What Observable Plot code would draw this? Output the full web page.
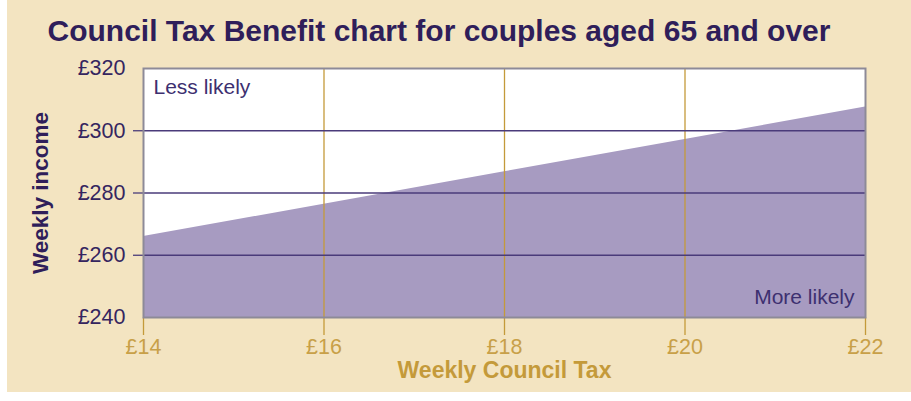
<!DOCTYPE html>
<html>
<head>
<meta charset="utf-8">
<script src="https://cdn.jsdelivr.net/npm/d3@7"></script>
<script src="https://cdn.jsdelivr.net/npm/@observablehq/plot@0.6"></script>
<style>
  html, body { margin: 0; padding: 0; background: #ffffff; }
  #wrap { position: absolute; left: 7px; top: 0; width: 904px; height: 392px; background: #f3e4c1; }
  svg { font-family: "Liberation Sans", Arial, sans-serif; }
</style>
</head>
<body>
<div id="wrap"></div>
<script>
const title = "Council Tax Benefit chart for couples aged 65 and over";
const xLabel = "Weekly Council Tax";
const yLabel = "Weekly income";
const councilTax = [14, 16, 18, 20, 22];
const weeklyIncome = [266, 276.4, 286.8, 297.2, 307.6];
const xTicks = [14, 16, 18, 20, 22];
const yTicks = [240, 260, 280, 300, 320];
const gridY = [260, 280, 300];
const gridX = [16, 18, 20];
const regionLabels = ["Less likely", "More likely"];

const data = councilTax.map((t, i) => ({tax: t, income: weeklyIncome[i]}));

const purple = "#2f1e5a";
const gold = "#c49a3a";

const chart = Plot.plot({
  width: 904,
  height: 392,
  marginLeft: 136,
  marginRight: 46,
  marginTop: 68,
  marginBottom: 75,
  style: {background: "transparent", fontFamily: "Liberation Sans, Arial, sans-serif"},
  x: {domain: [14, 22]},
  y: {domain: [240, 320]},
  marks: [
    Plot.frame({fill: "#ffffff", stroke: "none"}),
    Plot.areaY(data, {x: "tax", y1: yTicks[0], y2: "income", fill: "#a79bc1", curve: "linear"}),
    Plot.ruleX(gridX, {stroke: gold, strokeWidth: 1.3}),
    Plot.ruleY(gridY, {stroke: "#4a3b7a", strokeWidth: 1.3}),
    Plot.axisY({ticks: gridY, tickSize: 10, text: null, stroke: "#4a3b7a", strokeWidth: 1.3, label: null}),
    Plot.axisY({ticks: yTicks, tickSize: 0, tickPadding: 18, tickFormat: d => "£" + d, fill: "#35255f", fontSize: 21.5, label: null}),
    Plot.axisX({ticks: xTicks, tickSize: 18, tickPadding: 3, tickFormat: d => "£" + d, stroke: gold, strokeWidth: 1.3, fill: "#c8a048", fontSize: 21.5, label: null}),
    Plot.frame({stroke: "#8d8a98", strokeWidth: 2}),
    Plot.text([regionLabels[0]], {frameAnchor: "top-left", dx: 10, dy: 19, lineAnchor: "middle", fill: "#3d3070", fontSize: 21, textAnchor: "start"}),
    Plot.text([regionLabels[1]], {frameAnchor: "bottom-right", dx: -11, dy: -20, lineAnchor: "middle", fill: "#3d3070", fontSize: 21, textAnchor: "end"}),
    Plot.text([title], {frameAnchor: "top-left", dx: -96, dy: -37, lineAnchor: "middle", textAnchor: "start", fill: purple, fontSize: 30, fontWeight: "bold"}),
    Plot.text([xLabel], {frameAnchor: "bottom", dy: 53, lineAnchor: "middle", textAnchor: "middle", fill: gold, fontSize: 23, fontWeight: "bold"}),
    Plot.text([yLabel], {frameAnchor: "left", dx: -103, rotate: -90, lineAnchor: "middle", textAnchor: "middle", fill: purple, fontSize: 22.5, fontWeight: "bold"})
  ]
});
document.getElementById("wrap").appendChild(chart);
</script>
</body>
</html>
